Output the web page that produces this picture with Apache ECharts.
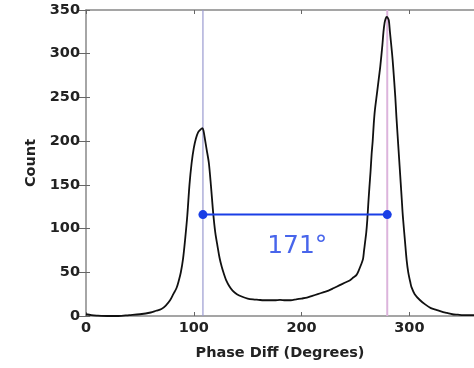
<!DOCTYPE html>
<html><head><meta charset="utf-8">
<script src="https://cdn.jsdelivr.net/npm/echarts@6/dist/echarts.min.js"></script>
<style>html,body{margin:0;padding:0;background:#fff}#c{width:474px;height:368px}</style>
</head><body><div id="c"></div>
<script>
const phaseDiff = [0,5,10,20,30,40,50,60,65,70,74,78,81,84,86,88,90,92,94,96,98,100,102,104,106,108,109,110,112,114,116,118,120,122,124,126,128,130,133,136,140,145,150,155,160,165,170,175,180,185,190,195,200,205,210,215,220,225,230,235,240,245,248,251,253,255,257,258,259,260,261,262,263,264,265,266,267,268,270,272,273,275,276,277,278,279,280,281,282,284,285,287,288,290,291,292,293,294,296,297.5,299,301,302,305,310,315,320,325,330,335,340,345,350,355,360];
const counts = [2,1,0.5,0,0,1,2,4,6,8,12,18,25,32,40,50,65,88,115,150,175,192,203,210,213,215,212,205,190,175,148,118,95,80,66,56,48,41,34,29,25,22,20,19,18.5,18,18,18,18.5,18,18,19,20,21,23,25,27,29,32,35,38,41,44,47,52,58,65,75,85,95,110,130,148,165,185,200,220,235,255,275,285,310,325,335,340,342,341,338,325,300,285,250,228,190,171,152,133,114,85,64,50,38,33,25,18,13,9,7,5,3.5,2,1.5,1,1,1];
const xTickLabels = ['0','100','200','300'];
const yTickLabels = ['0','50','100','150','200','250','300','350'];
const peakPositions = [108.5, 279.5];
const separationLevel = 116;
const separationText = '171°';
const textAnchor = [196, 80];

const chart = echarts.init(document.getElementById('c'), null, {renderer:'canvas'});
const lblFont = {fontFamily:'DejaVu Sans', fontWeight:'bold', fontSize:14.5, color:'#222'};
const nameFont = {fontFamily:'DejaVu Sans', fontWeight:'bold', fontSize:14.5, color:'#222'};
const axisLineStyle = {color:'#888', width:1.5};
const tickStyle = {color:'#666', width:1};
chart.setOption({
  animation:false,
  grid:{left:86, top:10, right:-1, bottom:52},
  xAxis:[{
    type:'value', min:0, max:360, interval:100, position:'bottom',
    name:'Phase Diff (Degrees)', nameLocation:'middle', nameGap:30,
    nameTextStyle:nameFont,
    axisLine:{show:true, onZero:false, lineStyle:axisLineStyle},
    axisTick:{show:true, inside:true, length:4, lineStyle:tickStyle},
    axisLabel:Object.assign({margin:5, showMaxLabel:false, formatter:v=> xTickLabels.includes(String(v))?String(v):''}, lblFont),
    splitLine:{show:false}
  },{
    type:'value', min:0, max:360, interval:100, position:'top',
    axisLine:{show:true, onZero:false, lineStyle:axisLineStyle},
    axisTick:{show:true, inside:true, length:4, lineStyle:tickStyle},
    axisLabel:{show:false}, splitLine:{show:false}
  }],
  yAxis:[{
    type:'value', min:0, max:350, interval:50, position:'left',
    name:'Count', nameLocation:'middle', nameGap:40, nameRotate:90,
    nameTextStyle:nameFont,
    axisLine:{show:true, onZero:false, lineStyle:axisLineStyle},
    axisTick:{show:true, inside:true, length:4, lineStyle:tickStyle},
    axisLabel:Object.assign({margin:6, formatter:v=> yTickLabels.includes(String(v))?String(v):''}, lblFont),
    splitLine:{show:false}
  },{
    type:'value', min:0, max:350, interval:50, position:'right',
    axisLine:{show:false},
    axisTick:{show:true, inside:true, length:7, lineStyle:tickStyle},
    axisLabel:{show:false}, splitLine:{show:false}
  }],
  series:[
    {type:'line', data:[[peakPositions[0],0],[peakPositions[0],350]], symbol:'none', lineStyle:{color:'#9a9ad0', width:1.2}, silent:true, z:1},
    {type:'line', data:[[peakPositions[1],0],[peakPositions[1],350]], symbol:'none', lineStyle:{color:'#dcb4dc', width:2}, silent:true, z:1},
    {type:'line', data:phaseDiff.map((x,i)=>[x,counts[i]]), symbol:'none', smooth:0.3,
      lineStyle:{color:'#111', width:1.8}, z:3},
    {type:'line', data:peakPositions.map(x=>[x,separationLevel]), symbol:'circle', symbolSize:9,
      itemStyle:{color:'#1a3fe6'}, lineStyle:{color:'#1a3fe6', width:2}, z:4},
    {type:'scatter', data:[textAnchor], symbolSize:0, z:5,
      label:{show:true, position:'inside', formatter:separationText, fontFamily:'DejaVu Sans', fontSize:25, color:'#1a3fe6'}}
  ]
});
</script></body></html>
